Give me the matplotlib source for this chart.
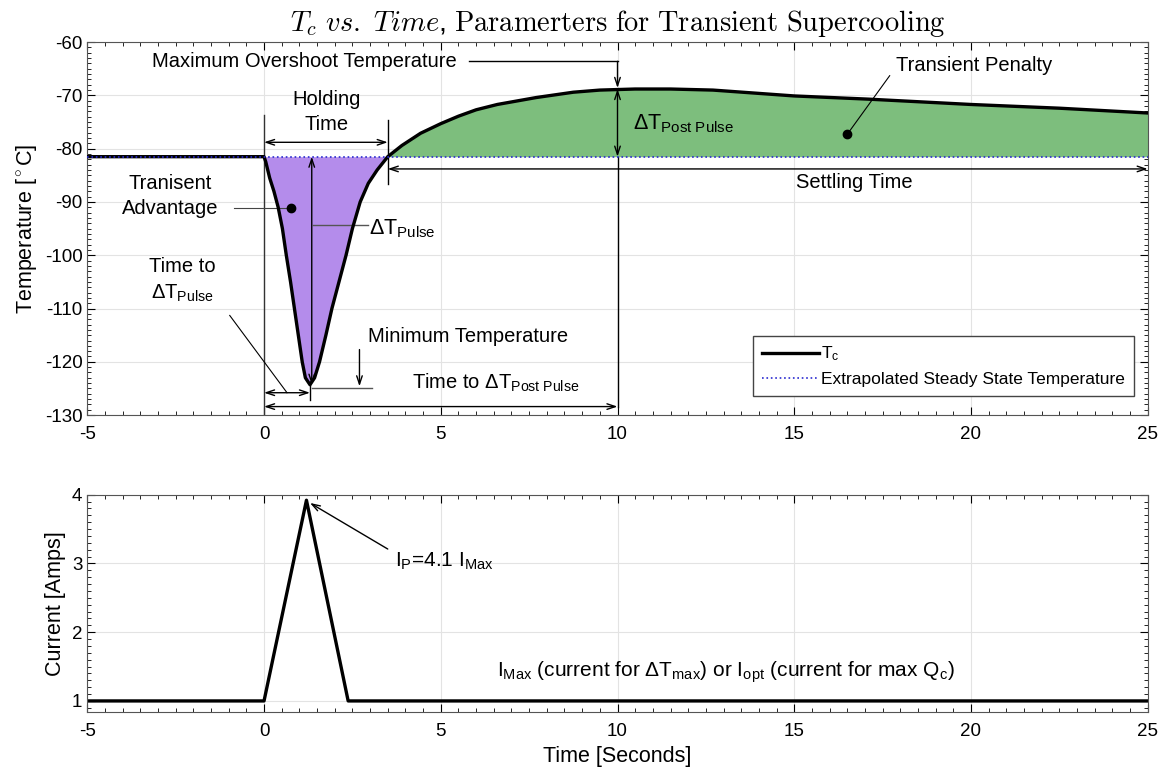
import numpy as np
import matplotlib
matplotlib.use("Agg")
import matplotlib.pyplot as plt
from matplotlib.ticker import MultipleLocator

plt.rcParams["font.family"] = ["Liberation Sans", "DejaVu Sans"]
plt.rcParams["mathtext.fontset"] = "custom"
plt.rcParams["mathtext.rm"] = "Liberation Sans"
plt.rcParams["mathtext.it"] = "Liberation Sans:italic"
plt.rcParams["axes.unicode_minus"] = False

# Tc curve
time_tc = [-5, 0, 0.05, 0.16, 0.28, 0.4, 0.52, 0.63, 0.75, 0.86, 0.97, 1.08, 1.17, 1.3,
           1.43, 1.57, 1.75, 1.92, 2.12, 2.32, 2.5, 2.72, 2.95, 3.2, 3.5,
           3.9, 4.43, 5.0, 5.5, 6.0, 6.6, 7.7, 8.75, 9.5, 10.5, 11.5, 12.7, 15, 17.1, 20, 22.5, 25]
temp_tc = [-81.5, -81.5, -82.5, -85.5, -88.0, -91.0, -95.0, -100, -105, -110, -115, -120, -123, -124.3,
           -123, -120, -115, -110, -105, -100, -95.0, -90.0, -86.5, -84.0, -81.5,
           -79.4, -77.1, -75.3, -73.9, -72.7, -71.7, -70.4, -69.4, -69.0, -68.8, -68.8, -69.0,
           -70.1, -70.7, -71.7, -72.4, -73.3]
steady_temp = -81.5

# current pulse
time_i = [-5, 0, 1.2, 2.38, 25]
current_i = [1, 1, 3.92, 1, 1]

purple = "#B48CEB"
green = "#7DBE7D"

fig = plt.figure(figsize=(11.64, 7.73), dpi=100)
ax = fig.add_axes([0.075, 0.463, 0.911, 0.4825])
ax2 = fig.add_axes([0.075, 0.079, 0.911, 0.281])

tt = np.array(time_tc)
tc = np.array(temp_tc)
ax.fill_between(tt, tc, steady_temp, where=(tt <= 3.5), color=purple, lw=0, interpolate=True)
ax.fill_between(tt, tc, steady_temp, where=(tt >= 3.5), color=green, lw=0, interpolate=True)
ax.plot(tt, tc, color="black", lw=2.4, label="T$_{\\rm c}$", zorder=4, solid_joinstyle="round")
ax.plot([-5, 25], [steady_temp, steady_temp], color="#2a2ad0", ls=":", lw=1.2,
        label="Extrapolated Steady State Temperature", zorder=5)

for a in (ax, ax2):
    a.set_xlim(-5, 25)
    a.xaxis.set_major_locator(MultipleLocator(5))
    a.xaxis.set_minor_locator(MultipleLocator(0.5))
    a.tick_params(which="both", direction="in", top=True, right=True, labelsize=13.5)
    a.tick_params(which="major", length=6)
    a.tick_params(which="minor", length=3)
    a.tick_params(axis="x", pad=8)
    a.grid(True, which="major", color="#e3e3e3", lw=0.8)
    a.set_axisbelow(True)
    for s in a.spines.values():
        s.set_color("#555555")

ax.set_ylim(-130, -60)
ax.yaxis.set_major_locator(MultipleLocator(10))
ax.yaxis.set_minor_locator(MultipleLocator(1))
ax.set_ylabel("Temperature [$^\\circ$C]", fontsize=15.5)
ax.set_title(r"$T_c\ vs.\ Time$, $\mathrm{Paramerters\ for\ Transient\ Supercooling}$",
             fontsize=20.5, math_fontfamily="cm", pad=8)

arr = dict(arrowstyle="<->,head_length=0.6,head_width=0.2", lw=1.0, color="black", shrinkA=0, shrinkB=0)
one = dict(arrowstyle="->,head_length=0.6,head_width=0.2", lw=1.0, color="black", shrinkA=0, shrinkB=0)
fs = 14.5

# maximum overshoot
ax.text(1.13, -63.6, "Maximum Overshoot Temperature", fontsize=fs, ha="center", va="center")
ax.plot([5.8, 10], [-63.6, -63.6], color="black", lw=1.0)
ax.annotate("", xy=(10, -68.6), xytext=(10, -63.6), arrowprops=one)
ax.annotate("", xy=(10, -68.8), xytext=(10, -81.5), arrowprops=arr)
ax.plot([10, 10], [-81.5, -128.4], color="black", lw=1.0)
ax.text(10.45, -75.3, "$\\Delta$T$_{\\rm Post\\ Pulse}$", fontsize=fs + 1, ha="left", va="center")

# transient penalty
ax.text(20.1, -64.3, "Transient Penalty", fontsize=fs, ha="center", va="center")
ax.plot([17.7, 16.5], [-66.3, -77.3], color="black", lw=0.8)
ax.plot(16.5, -77.3, "o", color="black", ms=6)

# settling time
ax.annotate("", xy=(25, -83.8), xytext=(3.5, -83.8), arrowprops=arr)
ax.text(16.7, -86.3, "Settling Time", fontsize=fs, ha="center", va="center")
ax.plot([3.5, 3.5], [-74.6, -86.6], color="black", lw=1.0)

# holding time
ax.text(1.78, -73.2, "Holding\nTime", fontsize=fs, ha="center", va="center", linespacing=1.4)
ax.annotate("", xy=(3.5, -78.8), xytext=(0, -78.8), arrowprops=arr)
ax.plot([0, 0], [-73.7, -130], color="#333333", lw=1.0)

# delta T pulse
ax.annotate("", xy=(1.35, -81.5), xytext=(1.35, -124.3), arrowprops=arr)
ax.plot([1.38, 2.95], [-94.3, -94.3], color="#555555", lw=1.0)
ax.text(2.97, -95.0, "$\\Delta$T$_{\\rm Pulse}$", fontsize=fs + 1, ha="left", va="center")

# transient advantage
ax.text(-2.65, -88.8, "Tranisent\nAdvantage", fontsize=fs, ha="center", va="center", linespacing=1.4)
ax.plot([-0.86, 0.76], [-91.2, -91.2], color="#444444", lw=0.8)
ax.plot(0.76, -91.2, "o", color="black", ms=6)

# time to delta T pulse
ax.text(-2.32, -104.8, "Time to\n$\\Delta$T$_{\\rm Pulse}$", fontsize=fs, ha="center", va="center", linespacing=1.4)
ax.plot([-0.97, 0.65], [-111.3, -125.8], color="black", lw=0.8)
ax.annotate("", xy=(1.3, -125.8), xytext=(0, -125.8), arrowprops=arr)
ax.plot([1.3, 1.3], [-124.3, -127.2], color="black", lw=1.0)

# minimum temperature
ax.text(5.78, -115.3, "Minimum Temperature", fontsize=fs, ha="center", va="center")
ax.annotate("", xy=(2.7, -124.6), xytext=(2.7, -117.7), arrowprops=one)
ax.plot([1.35, 3.05], [-125.0, -125.0], color="#555555", lw=1.0)

# time to delta T post pulse
ax.text(6.55, -124.0, "Time to $\\Delta$T$_{\\rm Post\\ Pulse}$", fontsize=fs, ha="center", va="center")
ax.annotate("", xy=(10, -128.4), xytext=(0, -128.4), arrowprops=arr)

leg = ax.legend(loc="lower right", fontsize=12.5, frameon=True, fancybox=False,
                edgecolor="#444444", framealpha=1, borderpad=0.5, handlelength=3.3,
                handletextpad=0.1, labelspacing=0.5, bbox_to_anchor=(0.995, 0.028))
leg.get_frame().set_linewidth(1.0)

# bottom: current
ax2.plot(time_i, current_i, color="black", lw=2.4)
ax2.set_ylim(0.84, 4)
ax2.yaxis.set_major_locator(MultipleLocator(1))
ax2.yaxis.set_minor_locator(MultipleLocator(0.1))
ax2.set_ylabel("Current [Amps]", fontsize=15.5)
ax2.set_xlabel("Time [Seconds]", fontsize=15.5)
ax2.annotate("", xy=(1.3, 3.88), xytext=(3.5, 3.21), arrowprops=one)
ax2.text(3.7, 3.03, "I$_{\\rm P}$=4.1 I$_{\\rm Max}$", fontsize=15, ha="left", va="center")
ax2.text(6.6, 1.42, "I$_{\\rm Max}$ (current for $\\Delta$T$_{\\rm max}$) or I$_{\\rm opt}$ "
         "(current for max Q$_{\\rm c}$)", fontsize=15, ha="left", va="center")

fig.savefig("out.png", dpi=100)
